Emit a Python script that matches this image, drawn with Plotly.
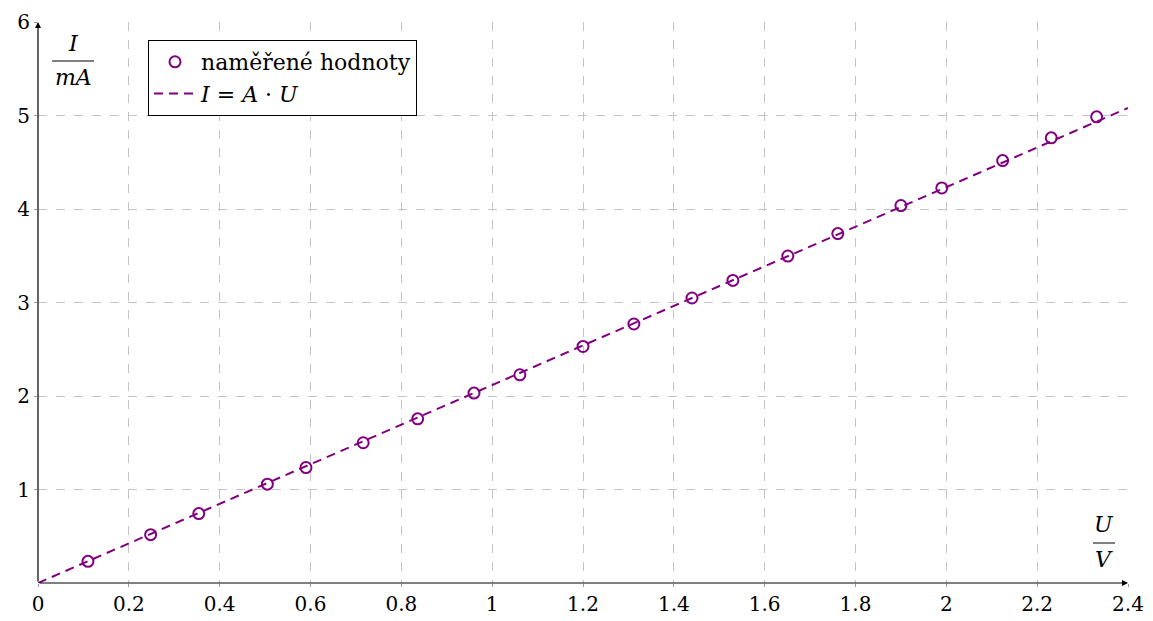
import plotly.graph_objects as go

# measured values (U in V, I in mA)
u_values = [0.110, 0.248, 0.354, 0.505, 0.590, 0.716, 0.836, 0.960, 1.061, 1.200,
            1.312, 1.440, 1.530, 1.651, 1.761, 1.900, 1.990, 2.124, 2.231, 2.331]
i_values = [0.232, 0.517, 0.742, 1.057, 1.235, 1.500, 1.756, 2.031, 2.227, 2.530,
            2.770, 3.048, 3.236, 3.497, 3.737, 4.037, 4.225, 4.518, 4.761, 4.986]
fit_slope = 2.117
fit_u = [0.0, 2.4]
fit_i = [fit_slope * u for u in fit_u]

x_ticks = [0, 0.2, 0.4, 0.6, 0.8, 1.0, 1.2, 1.4, 1.6, 1.8, 2.0, 2.2, 2.4]
x_tick_labels = ["0", "0.2", "0.4", "0.6", "0.8", "1", "1.2", "1.4", "1.6", "1.8", "2", "2.2", "2.4"]
y_ticks = [1, 2, 3, 4, 5, 6]
y_tick_labels = ["1", "2", "3", "4", "5", "6"]

purple = "#800080"
FF = "DejaVu Serif"

fig = go.Figure()
fig.add_trace(go.Scatter(
    x=u_values, y=i_values, mode="markers", name="naměřené hodnoty",
    marker=dict(symbol="circle-open", size=11, color=purple, line=dict(width=2, color=purple)),
))
fig.add_trace(go.Scatter(
    x=fit_u, y=fit_i, mode="lines", name="<i>I</i> = <i>A</i> · <i>U</i>",
    line=dict(color=purple, width=2, dash="9px,6px"),
))

W, H = 1153, 621
L, R, T, B = 38, 25, 22, 38
PW, PH = W - L - R, H - T - B
fig.update_layout(
    width=W, height=H,
    margin=dict(l=L, r=R, t=T, b=B, pad=0, autoexpand=False),
    plot_bgcolor="white", paper_bgcolor="white",
    font=dict(family=FF, size=20, color="black"),
    showlegend=True,
    legend=dict(
        x=(148 - L) / PW, y=1 - (40 - T) / PH,
        xanchor="left", yanchor="top",
        bordercolor="black", borderwidth=1, bgcolor="white",
        font=dict(family=FF, size=22, color="black"),
        tracegroupgap=0, itemwidth=42,
    ),
    xaxis=dict(
        range=[0, 2.4], tickvals=x_ticks, ticktext=x_tick_labels,
        showgrid=True, gridcolor="#c4c4c4", griddash="dash", gridwidth=1,
        showline=False, zeroline=False, automargin=False,
        ticks="outside", ticklen=3, tickcolor="#999999",
        tickfont=dict(family=FF, size=20, color="black"),
    ),
    yaxis=dict(
        range=[0, 6], tickvals=y_ticks, ticktext=y_tick_labels,
        showgrid=True, gridcolor="#c4c4c4", griddash="dash", gridwidth=1,
        showline=False, zeroline=False, automargin=False,
        ticks="outside", ticklen=3, tickcolor="#999999",
        tickfont=dict(family=FF, size=20, color="black"),
    ),
)

# axis arrows
fig.add_annotation(x=2.4, y=0, ax=0, ay=0, xref="x", yref="y", axref="x", ayref="y",
                   showarrow=True, arrowhead=2, arrowsize=1, arrowwidth=1.2, arrowcolor="black", text="")
fig.add_annotation(x=0, y=6, ax=0, ay=0, xref="x", yref="y", axref="x", ayref="y",
                   showarrow=True, arrowhead=2, arrowsize=1, arrowwidth=1.2, arrowcolor="black", text="")

def px_x(p):
    return (p - L) / PW
def px_y(p):
    return 1 - (p - T) / PH

lab_font = dict(family=FF, size=22, color="black")
fig.add_annotation(x=px_x(73), y=px_y(44), xref="paper", yref="paper", text="<i>I</i>",
                   showarrow=False, font=lab_font, xanchor="center", yanchor="middle")
fig.add_shape(type="line", xref="paper", yref="paper", x0=px_x(52), x1=px_x(94),
              y0=px_y(61), y1=px_y(61), line=dict(color="black", width=1))
fig.add_annotation(x=px_x(73), y=px_y(77), xref="paper", yref="paper", text="<i>mA</i>",
                   showarrow=False, font=lab_font, xanchor="center", yanchor="middle")

fig.add_annotation(x=px_x(1104), y=px_y(524), xref="paper", yref="paper", text="<i>U</i>",
                   showarrow=False, font=lab_font, xanchor="center", yanchor="middle")
fig.add_shape(type="line", xref="paper", yref="paper", x0=px_x(1093), x1=px_x(1115),
              y0=px_y(543), y1=px_y(543), line=dict(color="black", width=1))
fig.add_annotation(x=px_x(1104), y=px_y(559), xref="paper", yref="paper", text="<i>V</i>",
                   showarrow=False, font=lab_font, xanchor="center", yanchor="middle")

fig.write_html("out.html", config={"displayModeBar": False},
               post_script="document.body.style.margin='0';document.body.style.padding='0';")
